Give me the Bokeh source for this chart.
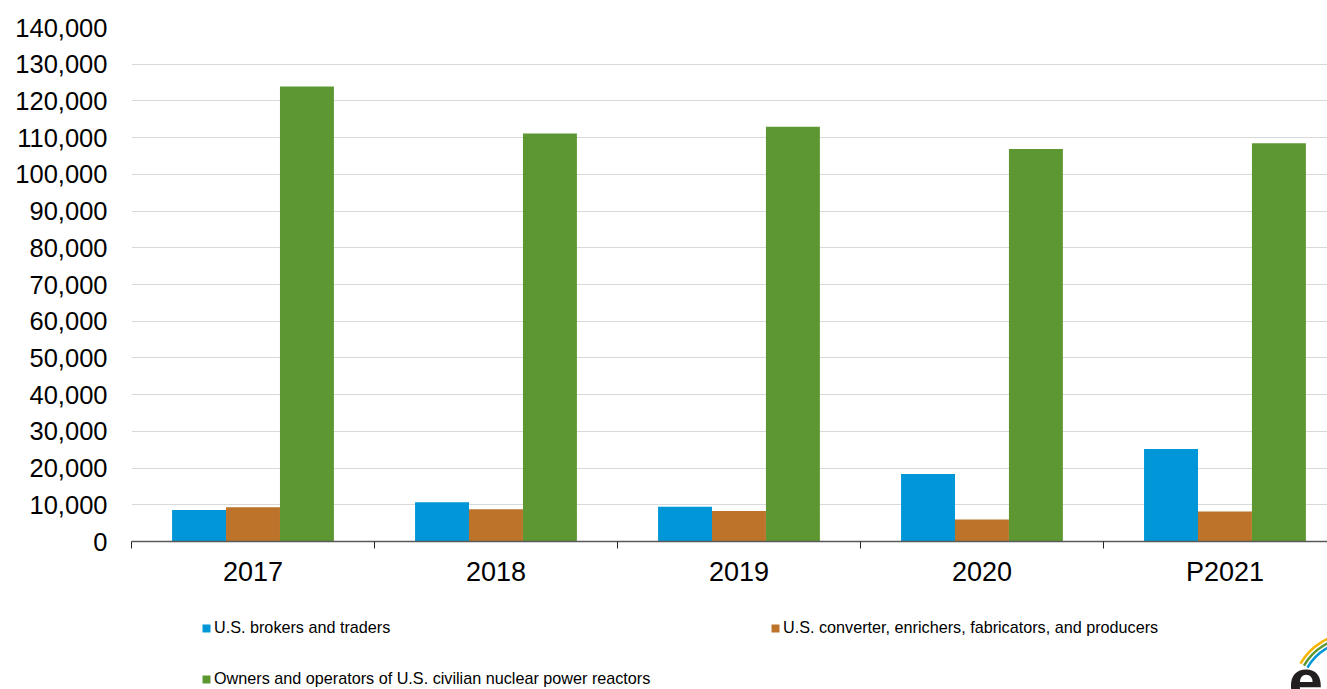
from bokeh.plotting import figure
from bokeh.layouts import column
from bokeh.models import (Range1d, FixedTicker, NumeralTickFormatter, Legend,
                          LegendItem, ColumnDataSource)
from bokeh.core.properties import value
from bokeh.embed import file_html
from bokeh.resources import INLINE

# ---- data ----
years = ["2017", "2018", "2019", "2020", "P2021"]
brokers_traders = [8600, 10700, 9450, 18400, 25200]
converters_producers = [9350, 8800, 8300, 6000, 8200]
owners_operators = [123900, 111100, 113000, 106900, 108500]
series_names = [
    "U.S. brokers and traders",
    "U.S. converter, enrichers, fabricators, and producers",
    "Owners and operators of U.S. civilian nuclear power reactors",
]
series_colors = ["#0096d7", "#bd732a", "#5d9732"]
y_ticks = list(range(0, 140001, 10000))

FONT = "Liberation Sans"
BAR_W = 0.222
W = 1327
LEFT = 131

p = figure(width=W, height=600, output_backend="svg", toolbar_location=None,
           x_range=Range1d(0, 4.922), y_range=Range1d(0, 140000),
           min_border_left=LEFT, min_border_right=0, min_border_top=27,
           min_border_bottom=59)
p.outline_line_color = None
p.background_fill_color = "white"
p.border_fill_color = "white"

series = [brokers_traders, converters_producers, owners_operators]
offsets = [-BAR_W, 0.0, BAR_W]
for vals, off, col in zip(series, offsets, series_colors):
    src = ColumnDataSource(dict(x=[i + 0.5 + off for i in range(len(years))], top=vals))
    p.vbar(x="x", top="top", width=BAR_W, source=src, fill_color=col, line_color=None)

# y axis
p.yaxis.ticker = FixedTicker(ticks=y_ticks)
p.yaxis.formatter = NumeralTickFormatter(format="0,0")
p.yaxis.axis_line_color = None
p.yaxis.major_tick_line_color = None
p.yaxis.minor_tick_line_color = None
p.yaxis.major_tick_out = 0
p.yaxis.major_label_standoff = 24
p.yaxis.major_label_text_font = FONT
p.yaxis.major_label_text_font_size = "25.5px"
p.yaxis.major_label_text_color = "#000000"

# x axis
centers = [i + 0.5 for i in range(len(years))]
p.xaxis.ticker = FixedTicker(ticks=centers, minor_ticks=list(range(len(years) + 1)))
p.xaxis.major_label_overrides = {c: y for c, y in zip(centers, years)}
p.xaxis.axis_line_color = "#595959"
p.xaxis.axis_line_width = 1.5
p.xaxis.major_tick_line_color = None
p.xaxis.major_tick_out = 0
p.xaxis.major_tick_in = 0
p.xaxis.minor_tick_line_color = "#262626"
p.xaxis.minor_tick_line_width = 1
p.xaxis.minor_tick_out = 7
p.xaxis.minor_tick_in = 0
p.xaxis.major_label_standoff = 8
p.xaxis.major_label_text_font = FONT
p.xaxis.major_label_text_font_size = "27px"
p.xaxis.major_label_text_color = "#000000"

# grid
p.xgrid.grid_line_color = None
p.ygrid.ticker = FixedTicker(ticks=y_ticks)
p.ygrid.grid_line_color = "#d9d9d9"
p.ygrid.grid_line_width = 1

# ---- legend strip (separate figure; units = page pixels) ----
LH = 89
q = figure(width=W, height=LH, output_backend="svg", toolbar_location=None,
           x_range=Range1d(LEFT, W), y_range=Range1d(0, LH),
           x_axis_type=None, y_axis_type=None,
           min_border_left=LEFT, min_border_right=0, min_border_top=0,
           min_border_bottom=0)
q.outline_line_color = None
q.xgrid.visible = False
q.ygrid.visible = False
q.background_fill_color = "white"
q.border_fill_color = "white"

# off-screen swatches that only feed the legend
leg_renderers = [q.vbar(x=[-1000], top=[0], width=1, fill_color=c, line_color=None)
                 for c in series_colors]
legend_locs = [(201 - LEFT, 52), (770 - LEFT, 52), (201 - LEFT, 1)]
for name, r, loc in zip(series_names, leg_renderers, legend_locs):
    lg = Legend(items=[LegendItem(label=name, renderers=[r])], location=loc,
                orientation="horizontal", padding=0, margin=0, spacing=0,
                border_line_color=None, background_fill_alpha=0,
                inactive_fill_alpha=0,
                glyph_width=10, glyph_height=10, label_standoff=3,
                label_height=10, label_text_font=FONT,
                label_text_font_size="16.2px", label_text_color="#000000")
    q.add_layout(lg, "center")

# small logo (decorative, bottom-right)
logo_colors = ["#f7b500", "#5d9732", "#0096d7"]
for k, c in enumerate(logo_colors):
    q.arc(x=1352, y=-4, radius=60 - 4 * k, start_angle=1.62, end_angle=2.62,
          line_color=c, line_width=2.5)
q.text(x=[1288], y=[30], text=["e"], text_font=value(FONT),
       text_font_size="62px", text_color="#231f20", text_font_style="bold",
       text_baseline="top", text_align="left")

open("out.html", "w").write(file_html(column(p, q, spacing=0), INLINE))
